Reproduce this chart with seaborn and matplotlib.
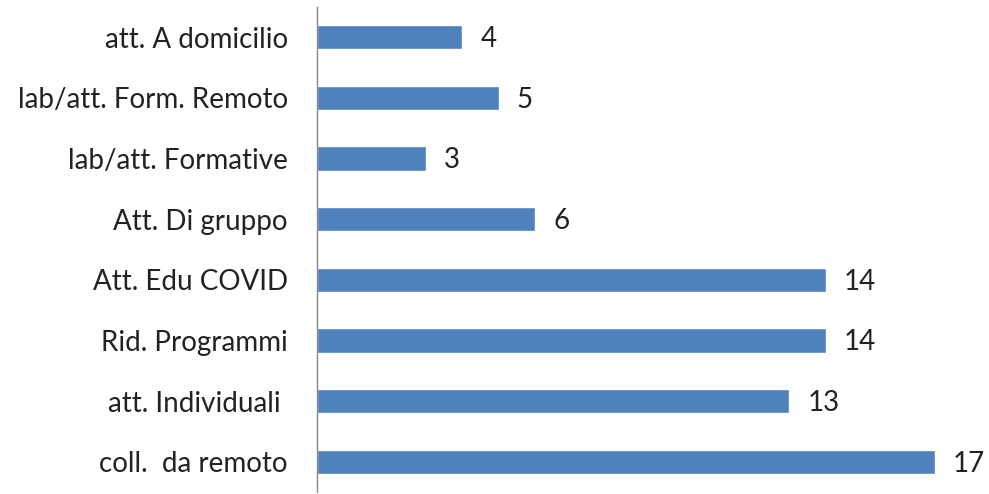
import matplotlib
matplotlib.use("Agg")
import matplotlib.pyplot as plt
import seaborn as sns
import pandas as pd

categories = [
    "att. A domicilio",
    "lab/att. Form. Remoto",
    "lab/att. Formative",
    "Att. Di gruppo",
    "Att. Edu COVID",
    "Rid. Programmi",
    "att. Individuali ",
    "coll.  da remoto",
]
values = [4, 5, 3, 6, 14, 14, 13, 17]

df = pd.DataFrame({"categoria": categories, "valore": values})

sns.set_theme(style="white")
plt.rcParams["font.family"] = ["Lato", "DejaVu Sans"]

fig = plt.figure(figsize=(9.89, 4.94), dpi=100)
ax = fig.add_axes([317 / 989, 2 / 494, 1 - 317 / 989, 1 - 9 / 494])

sns.barplot(data=df, x="valore", y="categoria", color="#4F81BD",
            saturation=1, width=0.4, ax=ax, orient="h")

for i, v in enumerate(values):
    ax.text(v + 0.5, i + 0.03, str(v), va="center", ha="left",
            fontsize=20, color="#222222")

ax.set_xlim(0, 18.5)
ax.set_ylim(len(categories) - 0.5, -0.5)
ax.set_xlabel("")
ax.set_ylabel("")
ax.set_xticks([])
ax.tick_params(axis="y", labelsize=20, colors="#222222", length=0, pad=21)
for s in ["top", "right", "bottom"]:
    ax.spines[s].set_visible(False)
ax.spines["left"].set_color("#888888")
ax.spines["left"].set_linewidth(1)

fig.savefig("out.png", dpi=100)
